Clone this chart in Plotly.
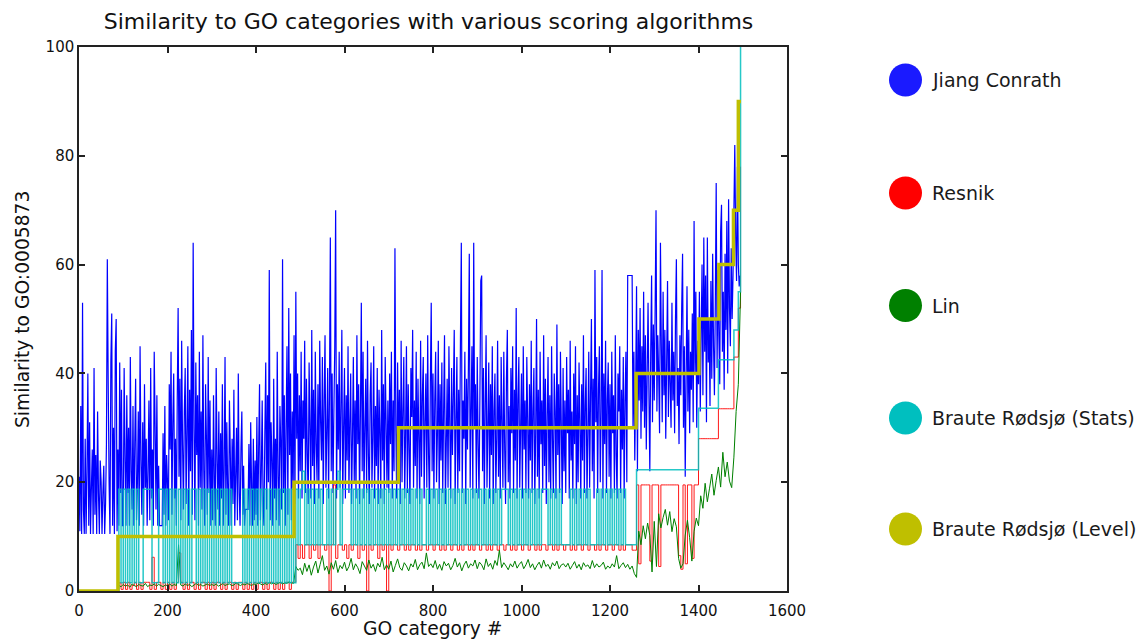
import plotly.graph_objects as go

# ---------------- data --------------------------------------------------------------------
# Jiang Conrath, sampled every 2 categories
jc_index = list(range(0, 1496, 2))
jiang_conrath = [
    # 0-98
    21, 11, 34, 10.5, 53, 15, 10.5, 28, 10.5, 22, 40, 12, 31, 10.5, 19, 26, 10.5, 41, 14, 25,
    10.5, 33, 18, 10.5, 24, 20, 10.5, 18, 23, 10.5, 16, 27, 61, 38, 20, 10.5, 42, 51, 12, 30,
    10.5, 44, 50, 11, 26, 12, 42, 18, 37, 12,
    # 100-198
    12, 41, 25, 12, 36, 18, 30, 12, 43, 22, 15, 34, 12, 27, 39, 13, 20, 33, 12, 45,
    24, 14, 31, 12, 38, 19, 28, 12, 22, 35, 13, 41, 17, 26, 12, 44, 30, 15, 36, 12,
    23, 12, 12, 12, 12, 29, 14, 34, 12, 25,
    # 200-298
    20, 13, 38, 26, 44, 14, 31, 40, 17, 28, 12, 35, 52, 21, 39, 13, 46, 27, 15, 33,
    41, 16, 29, 45, 12, 37, 22, 48, 14, 64, 30, 13, 42, 25, 36, 12, 44, 19, 33, 15,
    47, 22, 12, 38, 28, 14, 43, 18, 35, 12,
    # 300-398
    26, 13, 36, 20, 12, 41, 24, 15, 33, 12, 29, 17, 38, 12, 22, 43, 14, 31, 19, 12,
    35, 25, 12, 28, 16, 37, 12, 21, 30, 13, 40, 18, 12, 26, 33, 14, 23, 12, 15, 15,
    15, 15, 27, 12, 31, 19, 12, 28, 13, 24,
    # 400-498
    14, 32, 12, 26, 38, 13, 22, 35, 16, 12, 29, 42, 15, 36, 20, 59, 13, 31, 24, 12,
    39, 17, 28, 13, 44, 21, 12, 34, 27, 15, 61, 18, 36, 12, 30, 45, 14, 52, 25, 40,
    13, 33, 19, 47, 16, 55, 28, 40, 17, 36,
    # 500-598
    22, 44, 17, 35, 28, 46, 18, 39, 25, 16, 42, 30, 17, 48, 23, 37, 16, 44, 27, 20,
    38, 17, 46, 31, 24, 43, 16, 35, 47, 19, 29, 41, 17, 36, 65, 22, 40, 18, 33, 45,
    70, 17, 38, 26, 44, 19, 34, 48, 16, 30,
    # 600-698
    41, 17, 36, 24, 45, 18, 31, 40, 16, 28, 43, 20, 35, 17, 47, 27, 38, 16, 33, 53,
    22, 44, 17, 30, 39, 18, 46, 25, 16, 36, 42, 19, 28, 45, 17, 34, 23, 41, 16, 37,
    29, 17, 48, 24, 38, 16, 43, 31, 19, 35,
    # 700-798
    18, 40, 27, 44, 17, 35, 22, 63, 30, 17, 42, 25, 37, 16, 46, 20, 33, 43, 17, 29,
    45, 18, 38, 26, 16, 41, 32, 48, 19, 35, 23, 44, 17, 39, 28, 16, 46, 21, 36, 43,
    17, 31, 40, 19, 47, 25, 16, 38, 53, 22,
    # 800-898
    40, 17, 35, 44, 20, 29, 46, 16, 38, 24, 42, 18, 33, 47, 16, 27, 39, 19, 45, 30,
    17, 41, 25, 36, 48, 16, 31, 43, 18, 37, 22, 46, 64, 18, 35, 28, 44, 16, 39, 26,
    41, 62, 19, 33, 45, 17, 64, 30, 38, 18,
    # 900-998
    43, 27, 17, 36, 57, 58, 22, 41, 16, 34, 47, 19, 30, 42, 17, 38, 25, 45, 16, 33,
    40, 18, 28, 46, 21, 36, 17, 43, 31, 19, 44, 26, 16, 39, 48, 20, 34, 17, 41, 29,
    45, 18, 37, 24, 52, 17, 35, 43, 19, 30,
    # 1000-1098
    40, 17, 45, 26, 35, 18, 43, 31, 17, 38, 24, 46, 18, 33, 41, 16, 29, 50, 21, 37,
    17, 44, 27, 35, 18, 47, 23, 39, 16, 32, 43, 20, 36, 17, 45, 28, 18, 40, 33, 17,
    49, 25, 38, 18, 44, 30, 16, 41, 22, 35,
    # 1100-1198
    18, 43, 29, 37, 17, 46, 24, 33, 17, 40, 27, 45, 16, 36, 20, 42, 31, 17, 38, 24,
    47, 18, 34, 41, 17, 29, 44, 19, 36, 50, 22, 39, 17, 59, 31, 43, 18, 37, 45, 20,
    33, 59, 17, 40, 27, 46, 18, 35, 42, 21,
    # 1200-1298
    38, 17, 44, 29, 36, 18, 47, 25, 17, 40, 33, 45, 18, 37, 26, 43, 17, 35, 44, 20,
    58, 58, 58, 58, 58, 58, 30, 44, 24, 38, 56, 22, 48, 35, 52, 28, 45, 33, 55, 30,
    47, 26, 40, 53, 36, 22, 44, 58, 31, 49,
    # 1300-1398
    35, 52, 70, 33, 47, 40, 29, 64, 45, 31, 55, 36, 48, 28, 42, 57, 32, 46, 38, 30,
    53, 35, 44, 29, 50, 61, 34, 41, 27, 47, 36, 52, 62, 30, 45, 21, 39, 56, 33, 48,
    29, 44, 37, 51, 31, 68, 40, 55, 30, 46,
    # 1400-1494
    38, 55, 33, 47, 60, 36, 65, 44, 58, 31, 65, 42, 50, 34, 57, 39, 62, 45, 36, 53,
    75, 41, 59, 47, 38, 66, 71, 44, 55, 37, 62, 48, 68, 40, 72, 52, 45, 63, 50, 58,
    70, 82, 65, 57, 78, 60, 56, 58,
]

# Other scores, sampled every 5 categories
go_index = list(range(0, 1500, 5))

resnik = [
    0, 0, 0, 0, 0, 0, 0, 0, 0, 0, 0, 0, 0, 0, 0, 0, 0, 0, 1.5, 0.3,
    1.6, 0.3, 1.6, 0.3, 1.0, 1.6, 0.3, 1.6, 0.3, 1.6, 1.6, 1.6, 0.3, 6.2, 0.3, 1.6, 1.6, 0.3, 1.6, 0.3,
    1.6, 0.3, 1.6, 0.3, 1.6, 7.0, 1.6, 0.3, 1.6, 0.3, 1.6, 1.6, 0.3, 1.6, 0.3, 1.6, 1.6, 0.3, 1.6, 0.3,
    1.6, 0.3, 1.6, 1.6, 0.3, 1.6, 0.3, 1.6, 1.6, 0.3, 1.6, 0.3, 1.6, 1.6, 0.3, 1.6, 0.3, 1.6, 0.3, 1.6,
    0.3, 1.6, 1.6, 0.3, 1.6, 0.3, 1.6, 1.6, 0.3, 1.6, 0.3, 1.6, 0.3, 1.6, 1.6, 0.3, 1.6, 1.6, 8.5, 6.0,
    8.5, 6.0, 8.5, 8.5, 6.0, 8.5, 7.5, 8.5, 6.0, 8.5, 8.5, 7.5, 8.5, 0, 8.5, 19.5, 6.0, 8.5, 8.5, 7.5,
    8.5, 6.0, 8.5, 7.5, 8.5, 8.5, 6.0, 8.5, 7.5, 8.5, 0, 8.5, 7.5, 8.5, 8.5, 6.0, 8.5, 7.5, 8.5, 0,
    8.5, 7.5, 8.5, 8.5, 7.5, 8.5, 8.5, 7.5, 8.5, 7.5, 8.5, 8.5, 7.5, 8.5, 7.5, 8.5, 8.5, 7.5, 8.5, 8.5,
    7.5, 8.5, 8.5, 7.5, 8.5, 7.5, 8.5, 8.5, 7.5, 8.5, 8.5, 7.5, 8.5, 7.5, 8.5, 8.5, 7.5, 8.5, 7.5, 8.5,
    8.5, 7.5, 8.5, 8.5, 7.5, 8.5, 7.5, 8.5, 8.5, 7.5, 8.5, 8.5, 7.5, 8.5, 8.5, 7.5, 8.5, 7.5, 8.5, 8.5,
    7.5, 8.5, 8.5, 7.5, 8.5, 8.5, 7.5, 8.5, 7.5, 8.5, 8.5, 7.5, 8.5, 8.5, 7.5, 8.5, 7.5, 8.5, 8.5, 7.5,
    8.5, 8.5, 7.5, 8.5, 7.5, 8.5, 8.5, 7.5, 8.5, 8.5, 7.5, 8.5, 8.5, 7.5, 8.5, 7.5, 8.5, 8.5, 7.5, 8.5,
    8.5, 7.5, 8.5, 8.5, 7.5, 8.5, 7.5, 8.5, 8.5, 8.5, 7.5, 7.5, 19.5, 5.0, 19.5, 19.5, 19.5, 19.5, 5.5, 19.5,
    19.5, 19.5, 4.5, 19.5, 19.5, 19.5, 19.5, 19.5, 19.5, 19.5, 19.5, 6.5, 4.0, 19.5, 5.0, 19.5, 19.5, 6.0, 19.5, 19.5,
    28, 28, 28, 28, 28, 28, 28, 28, 28, 33.5, 33.5, 33.5, 33.5, 33.5, 33.5, 33.5, 43, 43, 52, 78,
]

lin = [
    0, 0, 0, 0, 0, 0, 0, 0, 0, 0, 0, 0, 0, 0, 0, 0, 0, 0, 1.0, 0.8,
    1.2, 0.9, 1.1, 0.7, 1.3, 1.0, 0.8, 1.2, 1.0, 0.9, 1.4, 0.8, 1.1, 1.0, 1.3, 0.9, 1.2, 1.0, 0.8, 1.1,
    1.0, 1.3, 0.9, 1.2, 1.0, 8.5, 1.1, 0.9, 1.3, 1.0, 1.2, 0.8, 1.1, 1.4, 1.0, 1.2, 0.9, 1.1, 1.3, 1.0,
    1.2, 1.0, 1.3, 0.9, 1.1, 1.4, 1.0, 1.2, 1.3, 1.0, 1.1, 1.5, 1.2, 1.0, 1.3, 1.1, 1.4, 1.2, 1.0, 1.3,
    1.2, 1.5, 1.3, 1.1, 1.4, 1.2, 1.6, 1.3, 1.5, 1.2, 1.4, 1.6, 1.3, 1.5, 1.4, 1.7, 1.5, 1.4, 4.5, 3.8,
    4.2, 3.0, 5.1, 3.6, 4.8, 2.9, 4.4, 5.5, 3.3, 4.9, 6.5, 3.8, 4.6, 3.1, 5.2, 4.0, 5.6, 3.4, 4.7, 4.1,
    5.3, 3.7, 4.5, 6.0, 3.9, 5.0, 4.3, 3.2, 5.4, 4.6, 3.8, 5.7, 4.2, 4.9, 3.6, 5.1, 4.4, 6.2, 3.9, 4.8,
    4.0, 5.5, 3.5, 4.7, 5.9, 4.3, 3.8, 5.2, 4.6, 3.7, 5.0, 4.4, 5.8, 3.9, 4.8, 5.3, 4.1, 7.0, 4.5, 5.0,
    4.3, 5.6, 4.0, 4.9, 3.8, 5.4, 4.6, 5.1, 3.9, 4.7, 6.0, 4.4, 5.2, 3.7, 4.8, 5.5, 4.2, 5.0, 4.6, 5.7,
    4.1, 5.3, 4.8, 3.9, 5.9, 4.5, 5.1, 4.0, 5.6, 4.7, 7.5, 4.3, 5.2, 4.6, 3.9, 5.0, 4.4, 5.5, 4.2, 4.9,
    5.4, 4.1, 4.8, 5.8, 4.3, 5.0, 3.9, 4.7, 5.3, 4.2, 5.7, 4.5, 4.9, 4.0, 5.2, 4.6, 5.5, 4.1, 4.8, 5.0,
    4.4, 5.1, 4.0, 4.7, 5.4, 4.2, 4.9, 3.9, 5.2, 4.5, 4.8, 4.1, 5.6, 4.3, 5.0, 4.4, 4.7, 5.3, 4.0, 4.6,
    4.2, 5.0, 4.4, 6.5, 4.1, 4.7, 5.2, 4.3, 4.9, 4.0, 4.6, 3.2, 2.5, 11, 8.5, 12, 9.6, 12.5, 10.2, 3.5,
    12.8, 4.5, 14.2, 11.6, 13.5, 15.0, 12.1, 14.6, 10.9, 13.3, 11.8, 6.0, 4.2, 5.0, 10.3, 13.0, 9.8, 5.5, 11.0, 13.4,
    12.0, 17.5, 15.2, 19.8, 16.4, 18.9, 21.5, 17.6, 20.3, 22.8, 19.1, 25.5, 21.0, 23.7, 20.2, 19.0, 24.6, 33.0, 38.0, 55.0,
]

braute_stats = [
    0, 0, 0, 0, 0, 0, 0, 0, 0, 0, 0, 0, 0, 0, 0, 0, 0, 0, 18.7, 1.5,
    18.7, 1.5, 18.7, 1.5, 18.7, 1.5, 18.7, 1.5, 1.5, 18.7, 18.7, 18.7, 18.7, 1.5, 1.5, 1.5, 18.7, 18.7, 1.5, 18.7,
    1.5, 18.7, 1.5, 18.7, 1.5, 18.7, 1.5, 18.7, 1.5, 18.7, 1.5, 18.7, 18.7, 1.5, 18.7, 1.5, 18.7, 1.5, 18.7, 1.5,
    18.7, 1.5, 18.7, 1.5, 18.7, 1.5, 18.7, 1.5, 18.7, 1.5, 1.5, 1.5, 1.5, 1.5, 18.7, 1.5, 18.7, 1.5, 18.7, 1.5,
    18.7, 1.5, 18.7, 1.5, 18.7, 1.5, 18.7, 1.5, 18.7, 1.5, 18.7, 1.5, 18.7, 1.5, 18.7, 1.5, 18.7, 1.5, 18.7, 8.5,
    18.7, 22.0, 8.5, 18.7, 8.5, 18.7, 8.5, 18.7, 8.5, 18.7, 8.5, 8.5, 18.7, 8.5, 18.7, 8.5, 18.7, 22.0, 8.5, 18.7,
    18.7, 18.7, 18.7, 8.5, 18.7, 8.5, 18.7, 8.5, 18.7, 8.5, 18.7, 8.5, 18.7, 8.5, 18.7, 8.5, 18.7, 8.5, 18.7, 8.5,
    18.7, 8.5, 18.7, 8.5, 18.7, 8.5, 18.7, 8.5, 18.7, 8.5, 18.7, 8.5, 18.7, 8.5, 18.7, 8.5, 8.5, 18.7, 8.5, 18.7,
    8.5, 18.7, 8.5, 18.7, 8.5, 18.7, 8.5, 18.7, 8.5, 18.7, 8.5, 18.7, 8.5, 18.7, 8.5, 18.7, 8.5, 18.7, 8.5, 18.7,
    8.5, 18.7, 8.5, 18.7, 8.5, 18.7, 8.5, 18.7, 8.5, 18.7, 8.5, 18.7, 18.7, 18.7, 8.5, 18.7, 8.5, 18.7, 8.5, 18.7,
    8.5, 18.7, 8.5, 18.7, 8.5, 18.7, 8.5, 18.7, 8.5, 18.7, 18.7, 18.7, 8.5, 18.7, 8.5, 18.7, 8.5, 18.7, 8.5, 8.5,
    8.5, 8.5, 18.7, 8.5, 18.7, 8.5, 18.7, 8.5, 18.7, 8.5, 18.7, 8.5, 8.5, 8.5, 18.7, 8.5, 18.7, 8.5, 18.7, 8.5,
    18.7, 8.5, 18.7, 8.5, 18.7, 8.5, 18.7, 8.5, 8.5, 8.5, 8.5, 8.5, 22.3, 22.3, 22.3, 22.3, 22.3, 22.3, 22.3, 22.3,
    22.3, 22.3, 22.3, 22.3, 22.3, 22.3, 22.3, 22.3, 22.3, 22.3, 22.3, 22.3, 22.3, 22.3, 22.3, 22.3, 22.3, 22.3, 22.3, 22.3,
    33.6, 33.6, 33.6, 33.6, 33.6, 33.6, 33.6, 33.6, 33.6, 42.5, 42.5, 42.5, 42.5, 42.5, 42.5, 42.5, 48, 48, 55, 100,
]

# Level series: category index where each level starts, and the level value
level_x = [0, 88, 486, 722, 1259, 1401, 1446, 1479, 1490, 1496]
level_y = [0, 10, 20, 30, 40, 50, 60, 70, 90, 90]

series_names = ["Jiang Conrath", "Resnik", "Lin", "Braute Rødsjø (Stats)", "Braute Rødsjø (Level)"]
line_colors = ["#0000ff", "#ff0000", "#008000", "#00bfbf", "#bfbf00"]
legend_colors = ["#1a1aff", "#ff0000", "#008000", "#00bfbf", "#bfbf00"]

x_ticks = [0, 200, 400, 600, 800, 1000, 1200, 1400, 1600]
y_ticks = [0, 20, 40, 60, 80, 100]

# ---------------- figure -------------------------------------------------------------------
FONT = "DejaVu Sans"
W, H = 1143, 639
L, R, T, B = 79, 787, 47, 591

fig = go.Figure()
fig.add_trace(go.Scatter(x=jc_index, y=jiang_conrath, mode="lines", name=series_names[0],
                         line=dict(color=line_colors[0], width=1.2, simplify=False), showlegend=False))
fig.add_trace(go.Scatter(x=go_index, y=resnik, mode="lines", name=series_names[1],
                         line=dict(color=line_colors[1], width=1, shape="hv", simplify=False),
                         opacity=0.9, showlegend=False))
fig.add_trace(go.Scatter(x=go_index, y=lin, mode="lines", name=series_names[2],
                         line=dict(color=line_colors[2], width=1, simplify=False), showlegend=False))
fig.add_trace(go.Scatter(x=go_index, y=braute_stats, mode="lines", name=series_names[3],
                         line=dict(color=line_colors[3], width=1.5, shape="hv", simplify=False),
                         opacity=0.85, showlegend=False))
fig.add_trace(go.Scatter(x=level_x, y=level_y, mode="lines", name=series_names[4],
                         line=dict(color=line_colors[4], width=3.5, shape="hv"), showlegend=False))


def px_x(p):
    return (p - L) / (R - L)


def px_y(p):
    return (B - p) / (B - T)


legend_y_px = [80, 193, 305.5, 418, 529]
shapes = []
annotations = []
for name, col, yp in zip(series_names, legend_colors, legend_y_px):
    shapes.append(dict(type="circle", xref="paper", yref="paper",
                       xsizemode="pixel", ysizemode="pixel",
                       xanchor=px_x(905.5), yanchor=px_y(yp),
                       x0=-16.5, x1=16.5, y0=-16.5, y1=16.5,
                       fillcolor=col, line=dict(width=0)))
    annotations.append(dict(text=name, xref="paper", yref="paper",
                            x=px_x(930), y=px_y(yp), xanchor="left", yanchor="middle",
                            showarrow=False, font=dict(family=FONT, size=19, color="#1a1a1a")))

# axis titles placed as annotations at the reference positions
annotations.append(dict(text="GO category #", xref="paper", yref="paper",
                        x=px_x(432), y=px_y(628), xanchor="center", yanchor="middle",
                        showarrow=False, font=dict(family=FONT, size=18.7, color="#111111")))
annotations.append(dict(text="Similarity to GO:0005873", xref="paper", yref="paper",
                        x=px_x(22), y=px_y(310), xanchor="center", yanchor="middle", textangle=-90,
                        showarrow=False, font=dict(family=FONT, size=18.7, color="#111111")))

axis_common = dict(showline=True, linecolor="#222222", linewidth=1.5, mirror="ticks",
                   ticks="inside", ticklen=6, tickwidth=1.5, tickcolor="#222222",
                   showgrid=False, zeroline=False, automargin=False,
                   tickfont=dict(family=FONT, size=15, color="#111111"))

fig.update_layout(
    width=W, height=H, autosize=False,
    margin=dict(l=L, r=W - R, t=T, b=H - B),
    plot_bgcolor="white", paper_bgcolor="white",
    title=dict(text="Similarity to GO categories with various scoring algorithms",
               x=428.5 / W, y=1 - 21 / H, xanchor="center", yanchor="middle",
               font=dict(family=FONT, size=22, color="#111111")),
    xaxis=dict(range=[0, 1600], tickvals=x_ticks, ticklabelstandoff=5, **axis_common),
    yaxis=dict(range=[0, 100], tickvals=y_ticks, **axis_common),
    shapes=shapes,
    annotations=annotations,
    showlegend=False,
)

fig.write_html("out.html")
